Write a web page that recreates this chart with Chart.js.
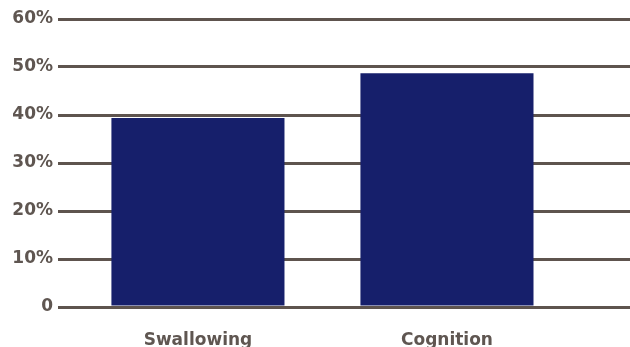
<!DOCTYPE html>
<html>
<head>
<meta charset="utf-8">
<script src="https://cdn.jsdelivr.net/npm/chart.js@4/dist/chart.umd.min.js"></script>
<style>
  html, body { margin: 0; padding: 0; background: #ffffff; }
  #wrap { width: 630px; height: 347px; position: relative; }
</style>
</head>
<body>
<div id="wrap"><canvas id="c"></canvas></div>
<script>
const categories = ['Swallowing', 'Cognition'];
const values = [39.4, 48.7];
const yTickLabels = ['0', '10%', '20%', '30%', '40%', '50%', '60%'];

const textColor = '#5f5651';
const gridColor = '#5e544e';
const barColor = '#161f6b';
const labelFont = { family: 'DejaVu Sans', size: 17, weight: 'bold' };

new Chart(document.getElementById('c'), {
  type: 'bar',
  data: {
    datasets: [{
      data: values.map((v, i) => ({ x: i, y: v })),
      backgroundColor: barColor,
      borderWidth: 0,
      categoryPercentage: 1,
      barPercentage: 0.695
    }]
  },
  options: {
    responsive: true,
    maintainAspectRatio: false,
    animation: false,
    layout: { padding: { top: 19, right: 0, left: 0, bottom: 0 } },
    plugins: { legend: { display: false }, tooltip: { enabled: false } },
    scales: {
      x: {
        type: 'linear',
        offset: false,
        min: -0.562,
        max: 1.735,
        afterFit: (axis) => { axis.height = 40; },
        grid: { display: false, offset: false },
        border: { display: false },
        afterBuildTicks: (axis) => { axis.ticks = categories.map((c, i) => ({ value: i })); },
        ticks: {
          color: textColor,
          font: labelFont,
          padding: 15,
          maxRotation: 0,
          autoSkip: false,
          callback: (v) => categories[v]
        }
      },
      y: {
        min: 0,
        max: 60,
        afterFit: (axis) => { axis.width = 58; },
        border: { display: false },
        grid: { color: gridColor, lineWidth: 3, drawTicks: false },
        ticks: {
          stepSize: 10,
          color: textColor,
          font: labelFont,
          padding: 5,
          callback: (v, i) => yTickLabels[i]
        }
      }
    }
  }
});
</script>
</body>
</html>
